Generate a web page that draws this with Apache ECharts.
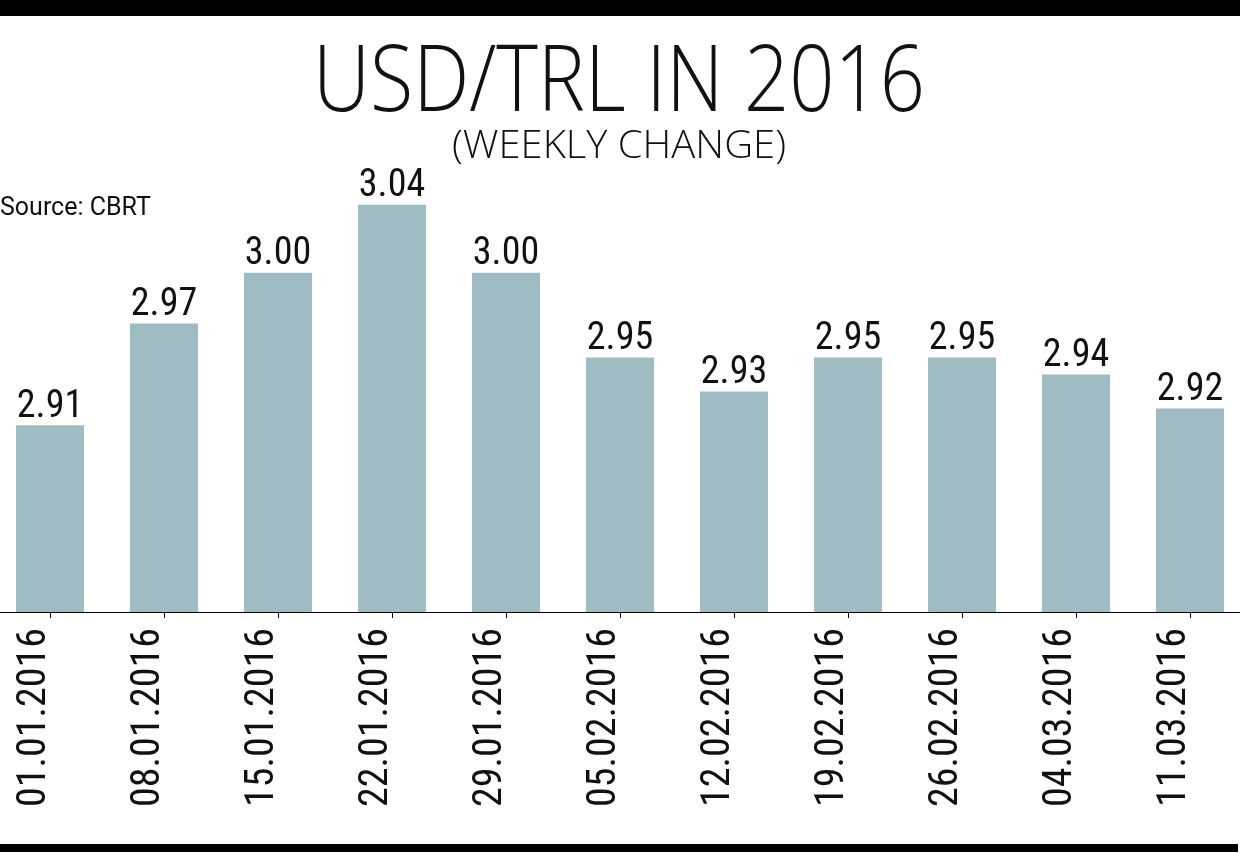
<!DOCTYPE html>
<html>
<head>
<meta charset="utf-8">
<style>
html,body{margin:0;padding:0;background:#fff;overflow:hidden;width:1240px;height:853px;position:relative;}
#chart{position:absolute;left:-7px;top:0;width:1254px;height:853px;}
</style>
<script src="https://cdn.jsdelivr.net/npm/echarts@6/dist/echarts.min.js"></script>
</head>
<body>
<div id="chart"></div>
<script>
const categories = ['01.01.2016','08.01.2016','15.01.2016','22.01.2016','29.01.2016','05.02.2016','12.02.2016','19.02.2016','26.02.2016','04.03.2016','11.03.2016'];
const values = [2.91, 2.97, 3.00, 3.04, 3.00, 2.95, 2.93, 2.95, 2.95, 2.94, 2.92];
const titleText = 'USD/TRL IN 2016';
const subtitleText = '(WEEKLY CHANGE)';
const sourceText = 'Source: CBRT';

const LABEL_FONT = '"Roboto Condensed", Roboto, sans-serif';
const TITLE_FONT = '"Open Sans", sans-serif';
const X0 = 7; // chart div is shifted left by 7px

// horizontal scale so the title lines get the reference's condensed width
const mctx = document.createElement('canvas').getContext('2d');
function fitScale(text, font, target) {
  mctx.font = font;
  return target / mctx.measureText(text).width;
}
const titleScale = fitScale(titleText, '300 92px "Open Sans"', 612);
const subScale = fitScale(subtitleText, '300 39px "Open Sans"', 334);

const chart = echarts.init(document.getElementById('chart'), null, {renderer: 'canvas'});
chart.setOption({
  animation: false,
  backgroundColor: '#ffffff',
  title: [
    {text: sourceText, left: X0, top: 196, padding: 0,
     textStyle: {fontFamily: 'Roboto, sans-serif', fontSize: 25, lineHeight: 25, fontWeight: 'normal', color: '#111'}}
  ],
  graphic: [
    {type: 'rect', x: X0, y: 0, shape: {width: 1240, height: 16}, style: {fill: '#000'}},
    {type: 'rect', x: X0, y: 844, shape: {width: 1238, height: 8}, style: {fill: '#000'}},
    {type: 'text', x: X0 + 619, y: 85, scaleX: titleScale,
     style: {text: titleText, fontFamily: TITLE_FONT, fontSize: 92, fontWeight: 300,
             fill: '#111', align: 'center', verticalAlign: 'middle'}},
    {type: 'text', x: X0 + 619, y: 147, scaleX: subScale,
     style: {text: subtitleText, fontFamily: TITLE_FONT, fontSize: 39, fontWeight: 300,
             fill: '#111', align: 'center', verticalAlign: 'middle'}}
  ],
  grid: {left: 0, right: 0, top: 103, bottom: 241, containLabel: false},
  xAxis: {
    type: 'category',
    data: categories,
    axisLine: {lineStyle: {color: '#000', width: 1}},
    axisTick: {show: true, alignWithLabel: true, length: 6, lineStyle: {color: '#000'}},
    axisLabel: {rotate: 90, margin: 16, fontFamily: LABEL_FONT, fontSize: 40, lineHeight: 30,
                verticalAlign: 'bottom', color: '#111', interval: 0}
  },
  yAxis: {
    type: 'value', min: 2.8, max: 3.1, show: false,
    splitLine: {show: false}
  },
  series: [{
    type: 'bar',
    data: values,
    barWidth: 68,
    itemStyle: {color: '#9ebcc1'},
    label: {show: true, position: 'top', distance: 3, fontFamily: LABEL_FONT, fontSize: 38, lineHeight: 30,
            color: '#111', formatter: p => p.value.toFixed(2)}
  }]
});
</script>
</body>
</html>
